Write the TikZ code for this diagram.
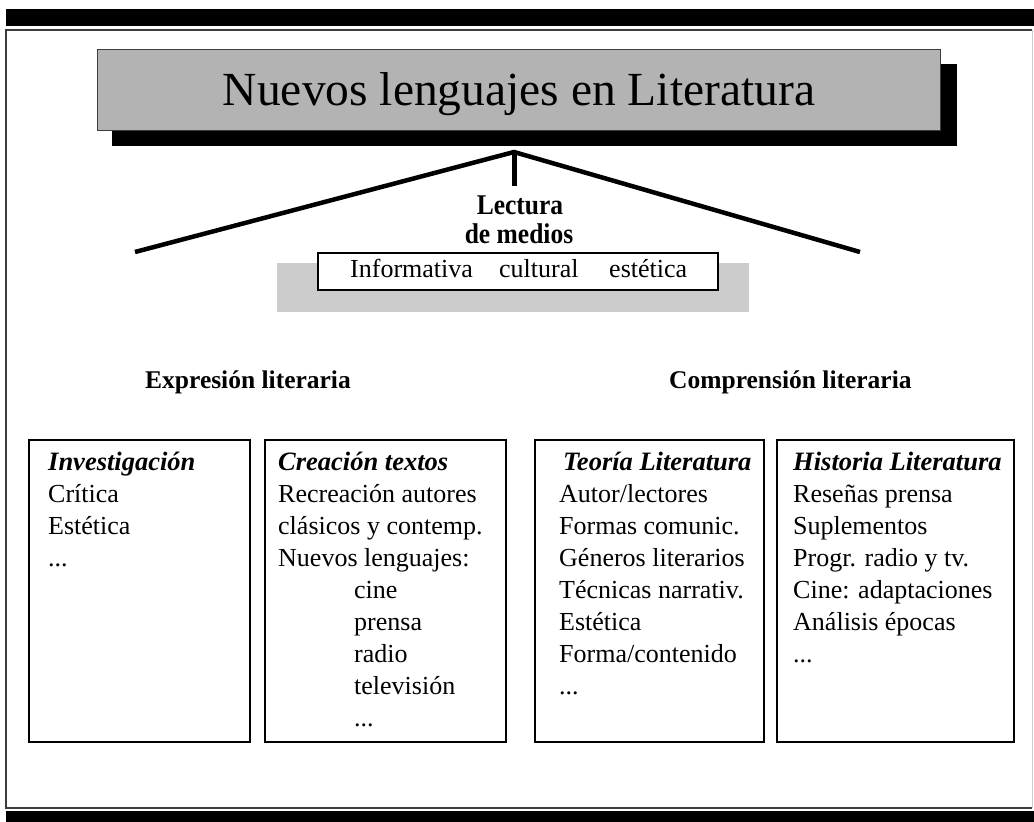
\documentclass[tikz,border=0pt]{standalone}
\usepackage{fontspec}
\setmainfont{Liberation Serif}
\definecolor{titlegray}{RGB}{179,179,179}
\definecolor{shadegray}{RGB}{204,204,204}
\definecolor{framegray}{RGB}{60,60,60}
\begin{document}
\begin{tikzpicture}[x=1pt,y=-1pt,
  boxline/.style={anchor=base west, inner sep=0pt, font=\fontsize{26}{31}\selectfont},
  boxhead/.style={anchor=base west, inner sep=0pt, font=\fontsize{26.5}{31}\selectfont\bfseries\itshape},
  heading/.style={anchor=base west, inner sep=0pt, font=\fontsize{25.5}{30}\selectfont\bfseries},
  listbox/.style={draw=black, line width=1.6pt, fill=white, anchor=north west, inner sep=0pt},
  roof/.style={line width=4.5pt, line join=miter},
  lecture/.style={anchor=base, inner sep=0pt, font=\fontsize{25.5}{30}\selectfont\bfseries},
]
\useasboundingbox (0,0) rectangle (1034,822);
% frame and bars
\fill[black] (6,9) rectangle (1034,26);
\draw[framegray, line width=1.5pt] (1032,30) -- (6,30) -- (6,808) -- (1032,808);
\draw[gray!40, line width=1pt] (1032,30) -- (1032,808);
\fill[black] (6,811) rectangle (1034,822);
% title
\fill[black] (112,64) rectangle (957,146);
\node[draw=framegray, line width=1pt, fill=titlegray, anchor=north west, minimum width=843pt, minimum height=81pt, inner sep=0pt] (title) at (97,49) {};
\node[anchor=base, inner sep=0pt, font=\fontsize{47.5}{57}\selectfont] (titletext) at (519,105) {Nuevos lenguajes en Literatura};
% roof
\coordinate (apex) at (514,152);
\coordinate (lend) at (135,252);
\coordinate (rend) at (860,252);
\coordinate (stub) at (514,186);
\draw[roof] (lend) -- (apex) -- (rend);
\draw[line width=5pt] (apex) -- (stub);
\node[lecture] (lect1) at (520,214) {\scalebox{1}[1.12]{Lectura}};
\node[lecture] (lect2) at (519,243) {\scalebox{1}[1.12]{de medios}};
% medios box
\node[fill=shadegray, anchor=north west, minimum width=472pt, minimum height=49pt, inner sep=0pt] (shade) at (277,263) {};
\node[draw=black, line width=1.5pt, fill=white, anchor=north west, minimum width=400pt, minimum height=37pt, inner sep=0pt] (medios) at (317,252) {};
\node[boxline] (m1) at (350,277) {Informativa};
\node[boxline] (m2) at (499,277) {cultural};
\node[boxline] (m3) at (609,277) {estética};
% headings
\node[heading] (expr) at (145,388) {Expresión literaria};
\node[heading] (comp) at (669,388) {Comprensión literaria};
% boxes
\node[listbox, minimum width=221pt, minimum height=302pt] (box1) at (28,439) {};
\node[listbox, minimum width=241pt, minimum height=302pt] (box2) at (264,439) {};
\node[listbox, minimum width=229pt, minimum height=302pt] (box3) at (534,439) {};
\node[listbox, minimum width=237pt, minimum height=302pt] (box4) at (776,439) {};
% box 1
\node[boxhead] (a0) at (48,470) {Investigación};
\node[boxline] (a1) at (48,502) {Crítica};
\node[boxline] (a2) at (48,534) {Estética};
\node[boxline] (a3) at (48,566) {...};
% box 2
\node[boxhead] (b0) at (278,470) {Creación textos};
\node[boxline] (b1) at (278,502) {Recreación autores};
\node[boxline] (b2) at (278,534) {clásicos y contemp.};
\node[boxline] (b3) at (278,566) {Nuevos lenguajes:};
\node[boxline] (b4) at (354,598) {cine};
\node[boxline] (b5) at (354,630) {prensa};
\node[boxline] (b6) at (354,662) {radio};
\node[boxline] (b7) at (354,694) {televisión};
\node[boxline] (b8) at (354,726) {...};
% box 3
\node[boxhead] (c0) at (563,470) {Teoría Literatura};
\node[boxline] (c1) at (559,502) {Autor/lectores};
\node[boxline] (c2) at (559,534) {Formas comunic.};
\node[boxline] (c3) at (559,566) {Géneros literarios};
\node[boxline] (c4) at (559,598) {Técnicas narrativ.};
\node[boxline] (c5) at (559,630) {Estética};
\node[boxline] (c6) at (559,662) {Forma/contenido};
\node[boxline] (c7) at (559,694) {...};
% box 4
\node[boxhead] (d0) at (793,470) {Historia Literatura};
\node[boxline] (d1) at (793,502) {Reseñas prensa};
\node[boxline] (d2) at (793,534) {Suplementos};
\node[boxline] (d3) at (793,566) {Progr. radio y tv.};
\node[boxline] (d4) at (793,598) {Cine: adaptaciones};
\node[boxline] (d5) at (793,630) {Análisis épocas};
\node[boxline] (d6) at (793,662) {...};
\end{tikzpicture}
\end{document}
